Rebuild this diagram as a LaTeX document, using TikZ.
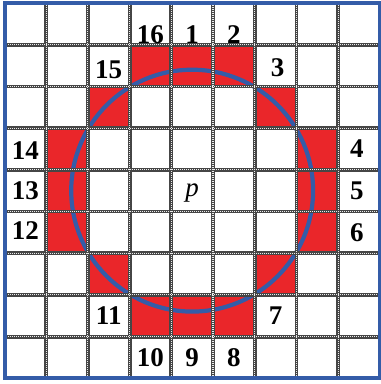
\documentclass[tikz,border=0pt]{standalone}
\usepackage{fontspec}
\setmainfont{Liberation Serif}
\definecolor{cred}{RGB}{234,38,42}
\definecolor{cblue}{RGB}{52,92,168}
\definecolor{cgrid}{RGB}{70,70,70}
\tikzset{
  gridbase/.style={cgrid, line width=3.8pt},
  gridtex/.style={white!85!gray, line width=1.1pt, dash pattern=on 0.9pt off 1.1pt},
  num/.style={font=\fontsize{27}{27}\selectfont\bfseries, inner sep=0pt},
  ptext/.style={font=\fontsize{27}{27}\selectfont\itshape, inner sep=0pt},
  redcell/.style={fill=cred},
  ring/.style={draw=cblue, line width=4.2pt},
  frame/.style={draw=cblue, line width=4pt}
}
\begin{document}
\begin{tikzpicture}[x=1pt,y=-1pt]
\useasboundingbox (0,0) rectangle (381,384);
\fill[white] (0,0) rectangle (381,384);
\begin{scope}[shift={(4.5,3)}, x=41.7pt, y=-41.7pt]
  \foreach \c/\r in {3/1,4/1,5/1,2/2,6/2,1/3,7/3,1/4,7/4,1/5,7/5,2/6,6/6,3/7,4/7,5/7}
    \fill[redcell] (\c,\r) rectangle ++(1,1);
  \draw[ring] (4.5,4.5) circle [radius=2.9];
  \foreach \i in {1,...,8} {
    \draw[gridbase] (\i,0) -- (\i,9);
    \draw[gridbase] (0,\i) -- (9,\i);
  }
  \foreach \i in {1,...,8} {
    \draw[gridtex] (\i,0) -- (\i,9);
    \draw[gridtex] (0,\i) -- (9,\i);
  }
  \draw[frame] (0,0) rectangle (9,9);
  \node[num] (n16) at (3.5,0.75) {16};
  \node[num] (n1)  at (4.5,0.75) {1};
  \node[num] (n2)  at (5.5,0.75) {2};
  \node[num] (n3)  at (6.55,1.55) {3};
  \node[num] (n4)  at (8.45,3.5) {4};
  \node[num] (n5)  at (8.45,4.5) {5};
  \node[num] (n6)  at (8.45,5.5) {6};
  \node[num] (n7)  at (6.5,7.5) {7};
  \node[num] (n8)  at (5.5,8.5) {8};
  \node[num] (n9)  at (4.5,8.5) {9};
  \node[num] (n10) at (3.5,8.5) {10};
  \node[num] (n11) at (2.5,7.5) {11};
  \node[num] (n12) at (0.5,5.45) {12};
  \node[num] (n13) at (0.5,4.5) {13};
  \node[num] (n14) at (0.5,3.55) {14};
  \node[num] (n15) at (2.5,1.6) {15};
  \node[ptext] (p) at (4.5,4.55) {p};
\end{scope}
\end{tikzpicture}
\end{document}
